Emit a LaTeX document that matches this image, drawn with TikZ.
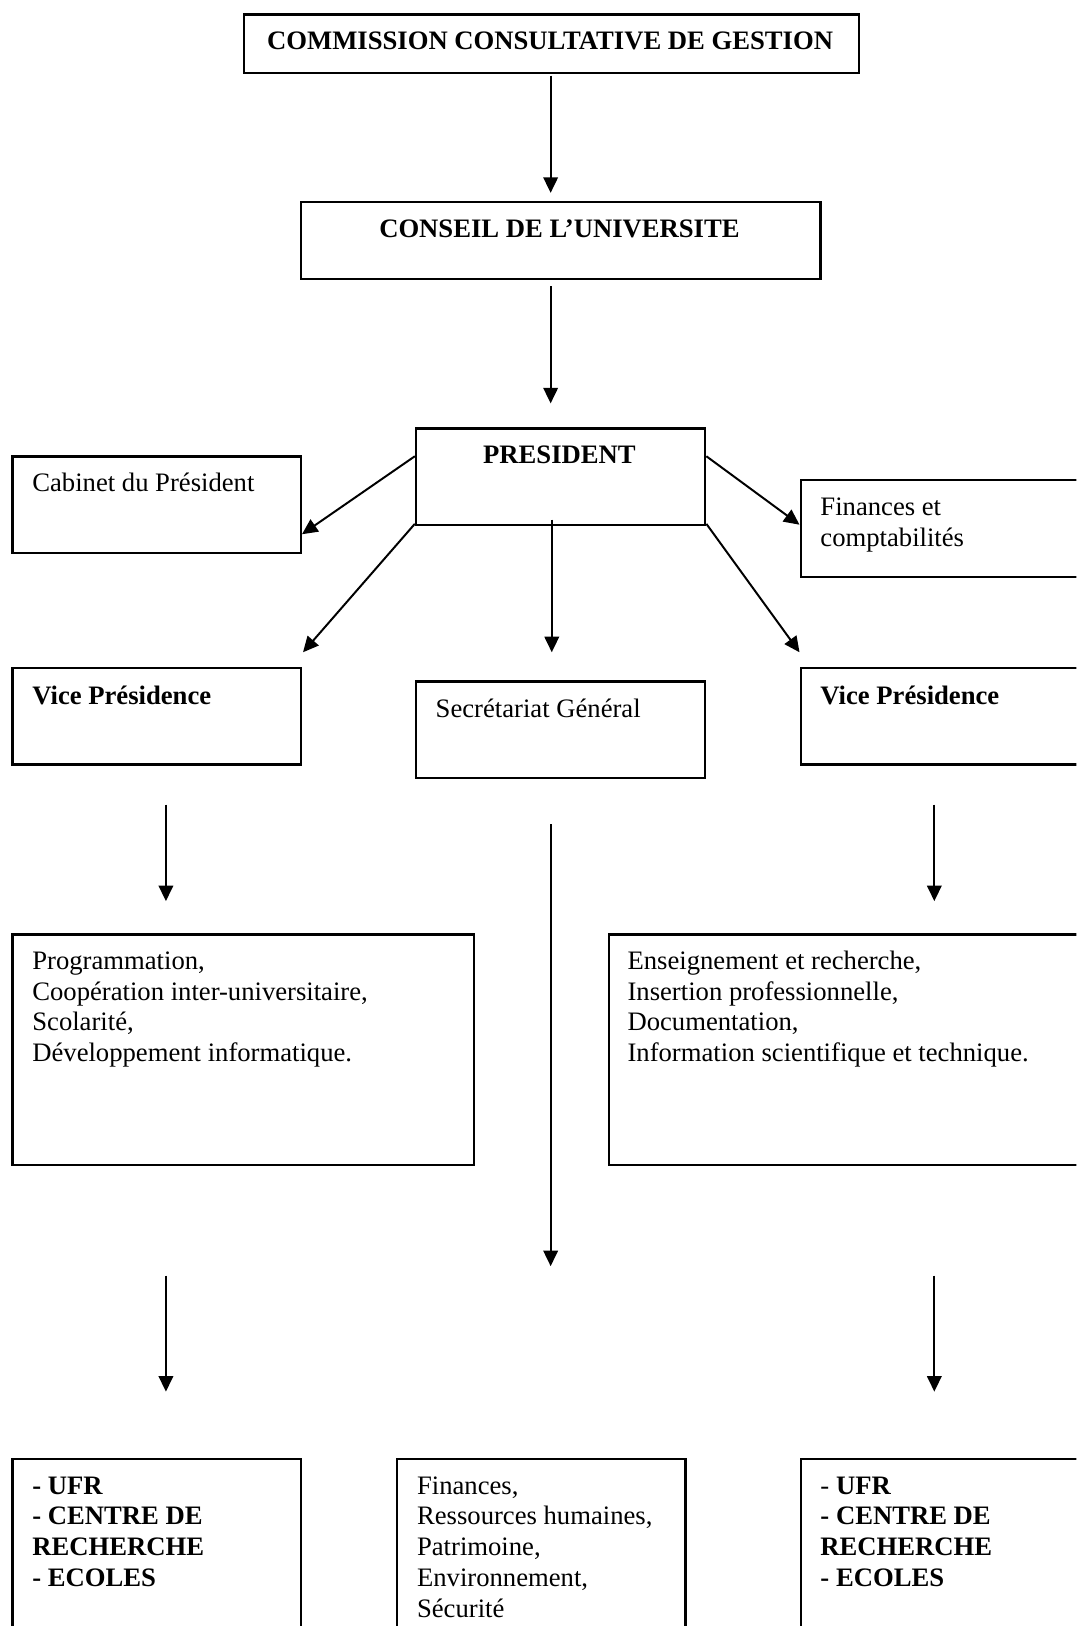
\documentclass[tikz,border=0pt]{standalone}
\usepackage{fontspec}
\setmainfont{Liberation Serif}
\usetikzlibrary{arrows.meta,calc}
\begin{document}
\begin{tikzpicture}[x=1pt,y=-1pt,
  box/.style={draw,line width=2.2pt,rectangle,inner sep=0pt,anchor=north west},
  txt/.style={anchor=north west,inner sep=0pt,align=left,font=\fontsize{25.7}{29.6}\selectfont},
  ctxt/.style={anchor=base,inner sep=0pt,font=\fontsize{25.7}{29.6}\selectfont\bfseries},
  arr/.style={line width=1.9pt,-{Triangle[length=15pt,width=14pt]}}]
\clip (0,0) rectangle (1038,1568);
\fill[white] (0,0) rectangle (1038,1568);
% boxes
\node[box,minimum width=593pt,minimum height=56pt] (comm) at (234,13) {};
\node[box,minimum width=501pt,minimum height=74pt] (cons) at (289,194) {};
\node[box,minimum width=279pt,minimum height=93pt] (pres) at (400,412) {};
\node[box,minimum width=278pt,minimum height=93pt] (cab) at (11,439) {};
\node[box,minimum width=300pt,minimum height=93pt] (fin) at (771,462) {};
\node[box,minimum width=278pt,minimum height=93pt] (vpl) at (11,643) {};
\node[box,minimum width=279pt,minimum height=93pt] (sg) at (400,656) {};
\node[box,minimum width=300pt,minimum height=93pt] (vpr) at (771,643) {};
\node[box,minimum width=445pt,minimum height=222pt] (progl) at (11,900) {};
\node[box,minimum width=480pt,minimum height=222pt] (progr) at (586,900) {};
\node[box,minimum width=278pt,minimum height=200pt] (ufrl) at (11,1406) {};
\node[box,minimum width=278pt,minimum height=200pt] (finc) at (382,1406) {};
\node[box,minimum width=300pt,minimum height=200pt] (ufrr) at (771,1406) {};
% texts
\node[ctxt] (tcomm) at (530.5,48) {COMMISSION CONSULTATIVE DE GESTION};
\node[ctxt] (tcons) at (539.5,229) {CONSEIL DE L’UNIVERSITE};
\node[ctxt] (tpres) at (539.5,447) {PRESIDENT};
\node[txt] (tcab) at (31,453) {\strut Cabinet du Président};
\node[txt] (tfin) at (791,476) {\strut Finances et\\comptabilités};
\node[txt] (tvpl) at (31,658) {\strut\textbf{Vice Présidence}};
\node[txt] (tsg) at (420,671) {\strut Secrétariat Général};
\node[txt] (tvpr) at (791,658) {\strut\textbf{Vice Présidence}};
\node[txt] (tprogl) at (31,914) {\strut Programmation,\\Coopération inter-universitaire,\\Scolarité,\\Développement informatique.};
\node[txt] (tprogr) at (605,914) {\strut Enseignement et recherche,\\Insertion professionnelle,\\Documentation,\\Information scientifique et technique.};
\node[txt] (tufrl) at (31,1420) {\strut\textbf{- UFR}\\\textbf{- CENTRE DE}\\\textbf{RECHERCHE}\\\textbf{- ECOLES}};
\node[txt] (tfinc) at (402,1420) {\strut Finances,\\Ressources humaines,\\Patrimoine,\\Environnement,\\Sécurité};
\node[txt] (tufrr) at (791,1420) {\strut - \textbf{UFR}\\\textbf{- CENTRE DE}\\\textbf{RECHERCHE}\\\textbf{- ECOLES}};
% free arrow ends
\coordinate (a1s) at (531,73);   \coordinate (a1e) at (531,186);
\coordinate (a2s) at (531,276);  \coordinate (a2e) at (531,389);
\coordinate (a3s) at (160,776);  \coordinate (a3e) at (160,869);
\coordinate (a4s) at (531,795);  \coordinate (a4e) at (531,1221);
\coordinate (a5s) at (901,776);  \coordinate (a5e) at (901,869);
\coordinate (a6s) at (160,1230); \coordinate (a6e) at (160,1342);
\coordinate (a7s) at (901,1230); \coordinate (a7e) at (901,1342);
% connectors
\draw[arr] (a1s) -- (a1e);
\draw[arr] (a2s) -- (a2e);
\draw[arr] ($(pres.north west)+(0,28)$) -- ($(cab.south east)+(0,-19)$);
\draw[arr] ($(pres.north east)+(0,28)$) -- ($(fin.north west)+(0,44)$);
\draw[arr] ($(pres.south west)+(0,-2)$) -- ($(vpl.north east)+(1,-14)$);
\draw[arr] ($(pres.south)+(-8.5,-6)$) -- ($(sg.north)+(-8.5,-27)$);
\draw[arr] ($(pres.south east)+(0,-2)$) -- ($(vpr.north west)+(0,-14)$);
\draw[arr] (a3s) -- (a3e);
\draw[arr] (a4s) -- (a4e);
\draw[arr] (a5s) -- (a5e);
\draw[arr] (a6s) -- (a6e);
\draw[arr] (a7s) -- (a7e);
\end{tikzpicture}
\end{document}
